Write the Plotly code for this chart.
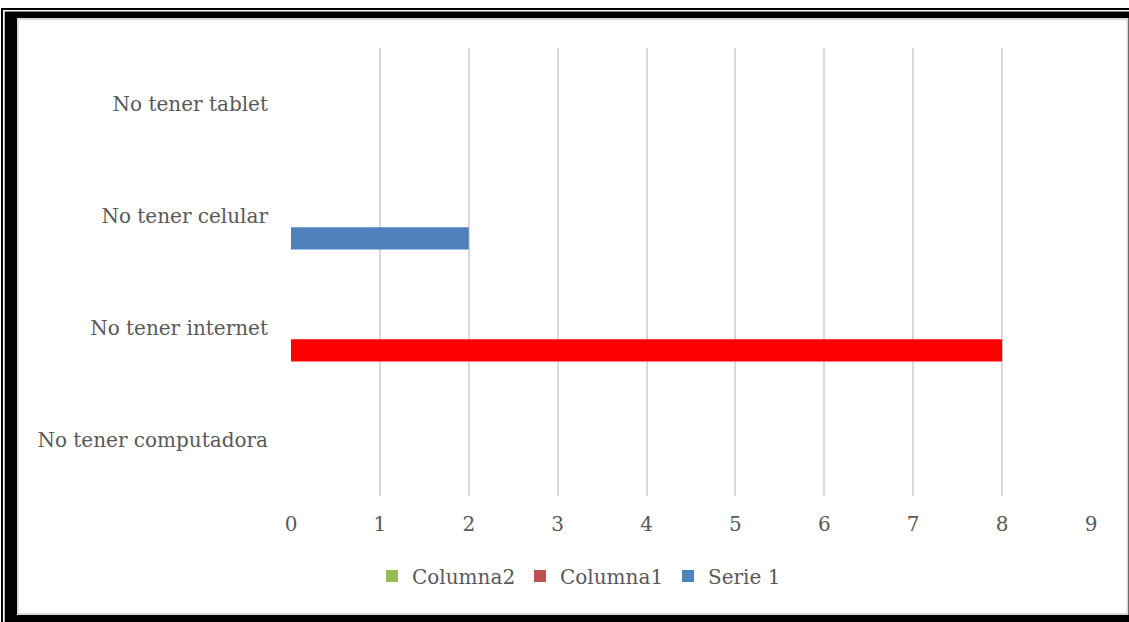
import plotly.graph_objects as go

categories = ["No tener computadora", "No tener internet", "No tener celular", "No tener tablet"]
serie1 = [0, 8, 2, 0]
columna1 = [0, 0, 0, 0]
columna2 = [0, 0, 0, 0]
x_ticks = [0, 1, 2, 3, 4, 5, 6, 7, 8, 9]

W, H = 1129, 622
L, R, T, B = 291, 1091, 48, 496

def px(x):
    return (x - L) / (R - L)

def py(y):
    return (B - y) / (B - T)

FONT = "DejaVu Serif"
GRAY = "#595959"

serie1_colors = ["#4F81BD", "#FF0000", "#4F81BD", "#4F81BD"]

fig = go.Figure()
fig.add_trace(go.Bar(y=categories, x=serie1, orientation="h", name="Serie 1",
                     marker=dict(color=serie1_colors, line=dict(width=0))))
fig.add_trace(go.Bar(y=categories, x=columna1, orientation="h", name="Columna1",
                     marker=dict(color="#C0504D", line=dict(width=0))))
fig.add_trace(go.Bar(y=categories, x=columna2, orientation="h", name="Columna2",
                     marker=dict(color="#9BBB59", line=dict(width=0))))

shapes = [
    dict(type="rect", xref="paper", yref="paper", layer="below",
         x0=px(1), x1=px(1145), y0=py(8), y1=py(640), fillcolor="black", line=dict(width=0)),
    dict(type="rect", xref="paper", yref="paper", layer="below",
         x0=px(3), x1=px(1143), y0=py(10), y1=py(638), fillcolor="white", line=dict(width=0)),
    dict(type="rect", xref="paper", yref="paper", layer="below",
         x0=px(4.7), x1=px(1141), y0=py(11.5), y1=py(636), fillcolor="black", line=dict(width=0)),
    dict(type="rect", xref="paper", yref="paper", layer="below",
         x0=px(18), x1=px(1127.5), y0=py(19), y1=py(614), fillcolor="white",
         line=dict(color="#D9D9D9", width=2)),
]

fig.update_layout(
    width=W, height=H,
    margin=dict(l=L, r=W - R, t=T, b=H - B),
    paper_bgcolor="white",
    plot_bgcolor="rgba(0,0,0,0)",
    barmode="group",
    bargap=0.4,
    bargroupgap=0,
    font=dict(family=FONT, size=20, color=GRAY),
    shapes=shapes,
    showlegend=True,
    legend=dict(orientation="h", x=px(594), y=py(576), xanchor="center", yanchor="middle",
                traceorder="reversed", font=dict(family=FONT, size=20, color=GRAY),
                itemwidth=30, entrywidth=103, entrywidthmode="pixels",
                bgcolor="rgba(0,0,0,0)"),
    xaxis=dict(range=[0, 9], tickvals=x_ticks, showgrid=True, gridcolor="#D9D9D9", gridwidth=2,
               zeroline=False, showline=False, ticks="", ticklabelstandoff=14,
               tickfont=dict(family=FONT, size=20, color=GRAY)),
    yaxis=dict(categoryorder="array", categoryarray=categories, showgrid=False, zeroline=False,
               showline=False, ticks="", ticklabelstandoff=22,
               tickfont=dict(family=FONT, size=20, color=GRAY)),
)

fig.write_html("out.html", config={"displayModeBar": False},
               post_script="document.body.style.margin='0px';document.body.style.overflow='hidden';")
